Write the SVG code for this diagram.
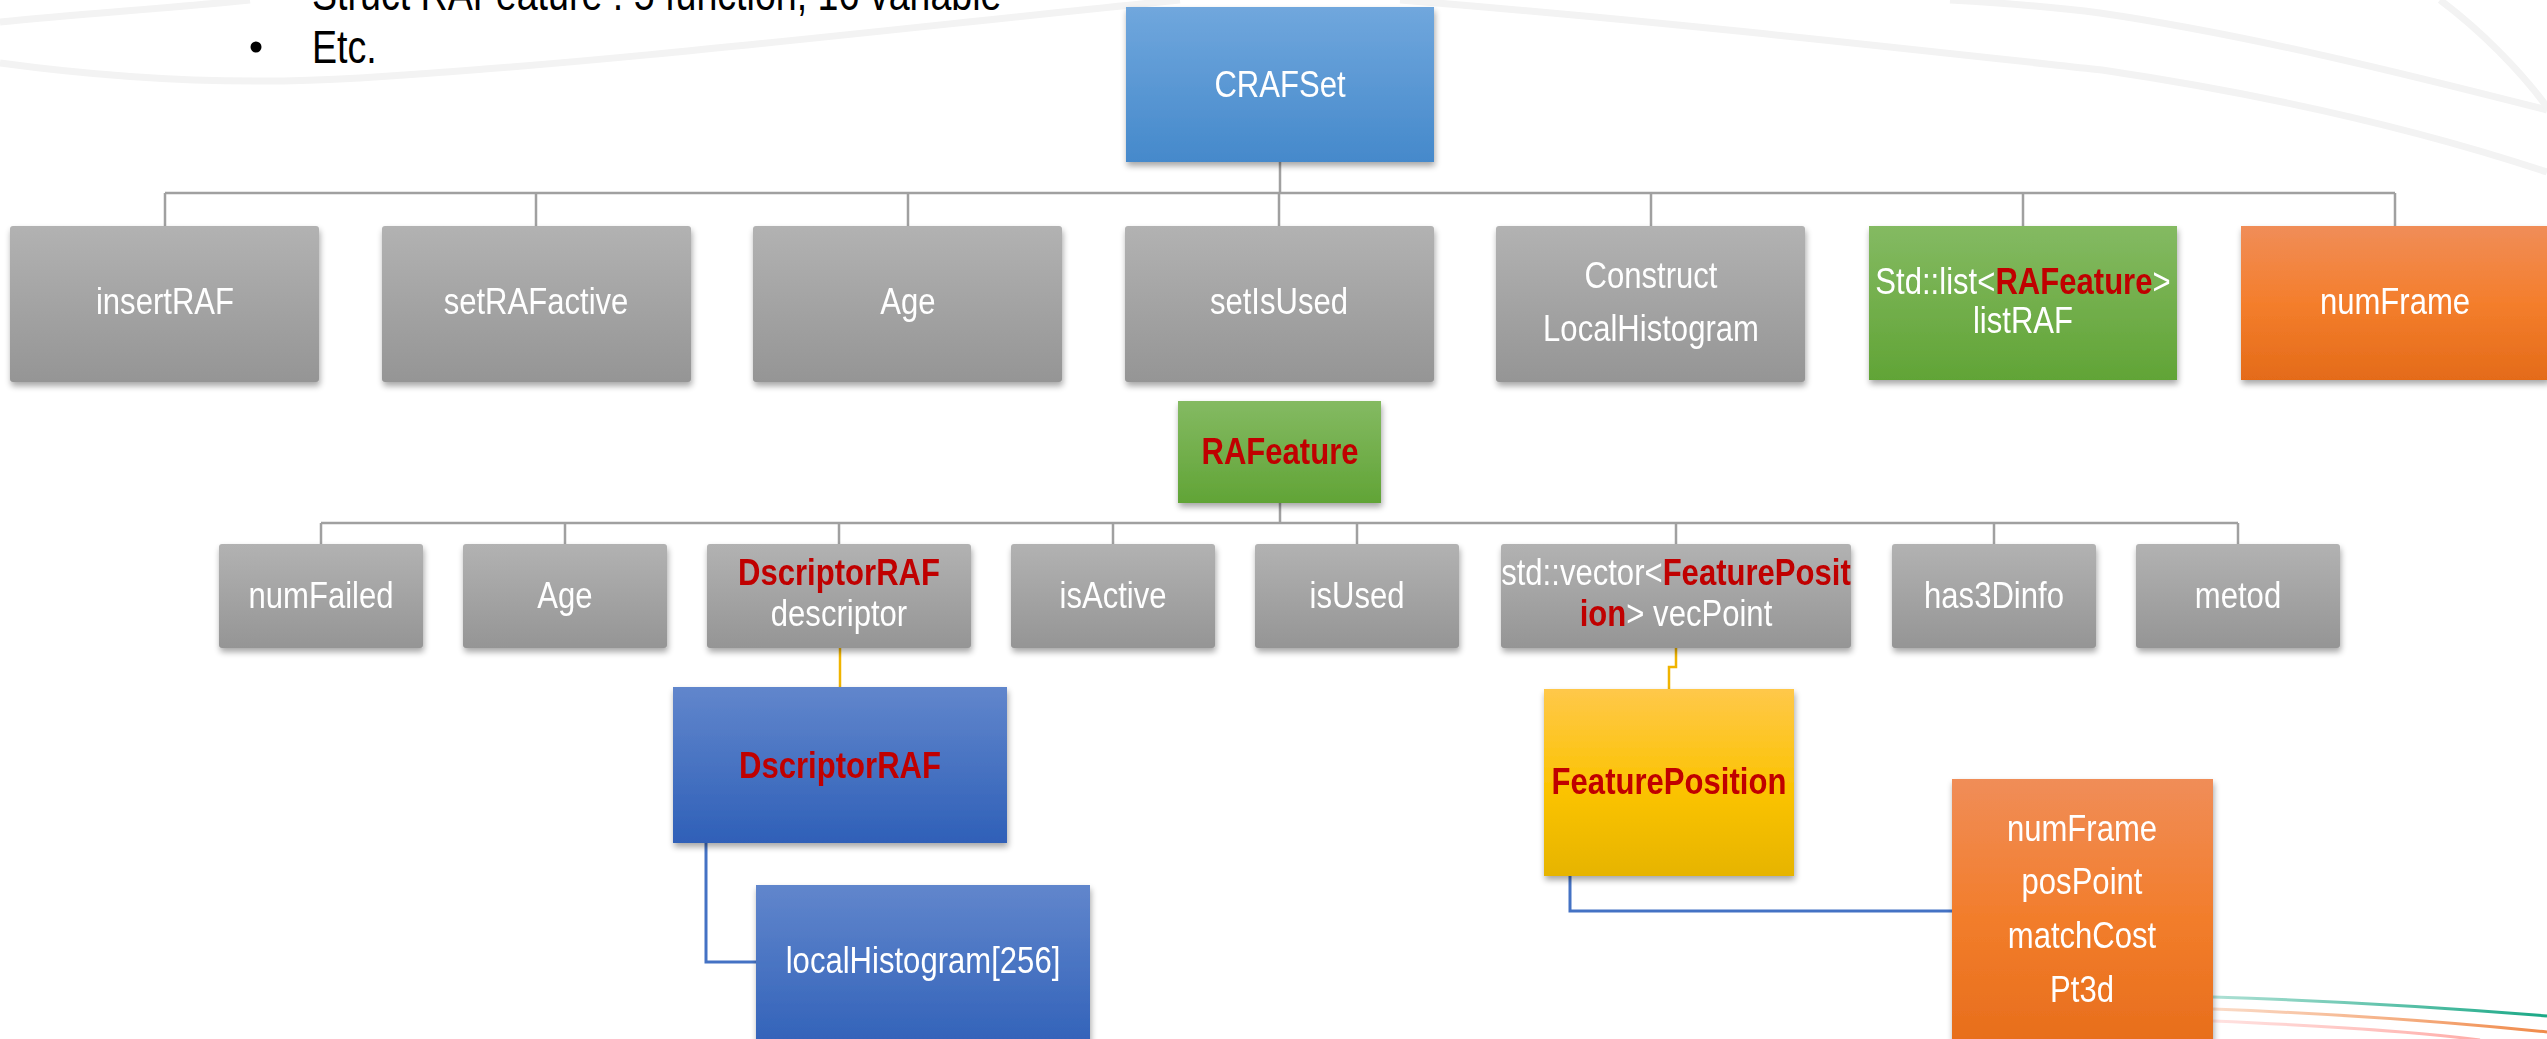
<svg xmlns="http://www.w3.org/2000/svg" width="2547" height="1039" viewBox="0 0 2547 1039">
  <style>
    .lbl { font-family: "Liberation Sans", Arial, sans-serif; font-size: 37px; fill: #ffffff; text-anchor: middle; }
    .key { font-weight: bold; fill: #c00000; }
    .bus { fill: none; stroke: #a0a0a0; stroke-width: 2.5; }
    .link-gold { fill: none; stroke: #f0b400; stroke-width: 2.5; }
    .link-blue { fill: none; stroke: #4472c4; stroke-width: 3; }
    .deco { fill: none; stroke: #f3f3f3; stroke-width: 7; }
    .note { font-family: "Liberation Sans", Arial, sans-serif; font-size: 47px; fill: #000000; }
  </style>
  <defs>
    <linearGradient id="gGray" x1="0" y1="0" x2="0" y2="1">
      <stop offset="0" stop-color="#b2b2b2"/>
      <stop offset="1" stop-color="#959595"/>
    </linearGradient>
    <linearGradient id="gSky" x1="0" y1="0" x2="0" y2="1">
      <stop offset="0" stop-color="#70a7dd"/>
      <stop offset="1" stop-color="#4589cb"/>
    </linearGradient>
    <linearGradient id="gBlue" x1="0" y1="0" x2="0" y2="1">
      <stop offset="0" stop-color="#6186cc"/>
      <stop offset="1" stop-color="#2f60b8"/>
    </linearGradient>
    <linearGradient id="gGreen" x1="0" y1="0" x2="0" y2="1">
      <stop offset="0" stop-color="#84ba62"/>
      <stop offset="1" stop-color="#61a436"/>
    </linearGradient>
    <linearGradient id="gOrange" x1="0" y1="0" x2="0" y2="1">
      <stop offset="0" stop-color="#f08d58"/>
      <stop offset="0.5" stop-color="#f47e2c"/>
      <stop offset="1" stop-color="#e46b19"/>
    </linearGradient>
    <linearGradient id="gOrangeTall" x1="0" y1="0" x2="0" y2="1">
      <stop offset="0" stop-color="#f08d58"/>
      <stop offset="0.5" stop-color="#f27d2b"/>
      <stop offset="1" stop-color="#e66c1a"/>
    </linearGradient>
    <linearGradient id="gYellow" x1="0" y1="0" x2="0" y2="1">
      <stop offset="0" stop-color="#ffc84a"/>
      <stop offset="0.55" stop-color="#fbc300"/>
      <stop offset="1" stop-color="#e6b400"/>
    </linearGradient>
    <linearGradient id="sTeal" gradientUnits="userSpaceOnUse" x1="2213" y1="0" x2="2547" y2="0">
      <stop offset="0" stop-color="#1aa886" stop-opacity="0.35"/>
      <stop offset="1" stop-color="#1aa886"/>
    </linearGradient>
    <linearGradient id="sAmber" gradientUnits="userSpaceOnUse" x1="2213" y1="0" x2="2547" y2="0">
      <stop offset="0" stop-color="#f08a4a" stop-opacity="0.3"/>
      <stop offset="1" stop-color="#f08a4a"/>
    </linearGradient>
    <linearGradient id="sRose" gradientUnits="userSpaceOnUse" x1="2213" y1="0" x2="2547" y2="0">
      <stop offset="0" stop-color="#ff9f9a" stop-opacity="0.3"/>
      <stop offset="1" stop-color="#ff9f9a"/>
    </linearGradient>
    <filter id="shadow" x="-10%" y="-10%" width="120%" height="130%">
      <feGaussianBlur in="SourceAlpha" stdDeviation="3"/>
      <feOffset dx="1" dy="4" result="b"/>
      <feComponentTransfer><feFuncA type="linear" slope="0.35"/></feComponentTransfer>
      <feMerge><feMergeNode/><feMergeNode in="SourceGraphic"/></feMerge>
    </filter>
  </defs>

  <rect width="2547" height="1039" fill="#ffffff"/>

  <!-- faint background swooshes -->
  <g id="background">
    <path class="deco" d="M0 22 C 80 14, 170 8, 250 0"/>
    <path class="deco" d="M0 63 C 110 78, 230 86, 360 78 C 620 62, 900 28, 1180 0"/>
    <path class="deco" d="M1400 0 C 1650 20, 1900 48, 2102 70 C 2270 95, 2420 130, 2547 172"/>
    <path class="deco" d="M1950 0 C 2020 4, 2070 9, 2100 13 C 2250 35, 2410 75, 2547 110"/>
    <path class="deco" d="M2440 0 C 2480 30, 2520 70, 2547 107"/>
  </g>

  <!-- text block above the tree -->
  <g id="notes">
    <text class="note" transform="translate(312 10) scale(0.8 1)">Struct  RAFeature : 5 function, 16 variable</text>
    <circle cx="256" cy="47" r="5.5" fill="#000000"/>
    <text class="note" transform="translate(312 63) scale(0.8 1)">Etc.</text>
  </g>

  <!-- tree connectors -->
  <g id="connectors">
    <path class="bus" d="M1280 162 V193 M165 193 H2395 M165 193 V226 M536 193 V226 M908 193 V226 M1279 193 V226 M1651 193 V226 M2023 193 V226 M2395 193 V226"/>
    <path class="bus" d="M1280 503 V523 M321 523 H2238 M321 523 V544 M565 523 V544 M839 523 V544 M1113 523 V544 M1357 523 V544 M1676 523 V544 M1994 523 V544 M2238 523 V544"/>
    <path class="link-gold" d="M840 648 V687"/>
    <path class="link-gold" d="M1676 648 V667 H1669 V689"/>
    <path class="link-blue" d="M706 843 V962 H756"/>
    <path class="link-blue" d="M1570 876 V911 H1952"/>
  </g>

  <!-- root -->
  <g id="crafset" filter="url(#shadow)">
    <rect x="1126" y="7" width="308" height="155" fill="url(#gSky)"/>
    <text class="lbl" transform="translate(1280 97) scale(0.84 1)">CRAFSet</text>
  </g>

  <!-- CRAFSet members -->
  <g id="insertRAF" filter="url(#shadow)">
    <rect x="10" y="226" width="309" height="156" rx="3" fill="url(#gGray)"/>
    <text class="lbl" transform="translate(165 314) scale(0.84 1)">insertRAF</text>
  </g>
  <g id="setRAFactive" filter="url(#shadow)">
    <rect x="382" y="226" width="309" height="156" rx="3" fill="url(#gGray)"/>
    <text class="lbl" transform="translate(536 314) scale(0.84 1)">setRAFactive</text>
  </g>
  <g id="age-set" filter="url(#shadow)">
    <rect x="753" y="226" width="309" height="156" rx="3" fill="url(#gGray)"/>
    <text class="lbl" transform="translate(908 314) scale(0.84 1)">Age</text>
  </g>
  <g id="setIsUsed" filter="url(#shadow)">
    <rect x="1125" y="226" width="309" height="156" rx="3" fill="url(#gGray)"/>
    <text class="lbl" transform="translate(1279 314) scale(0.84 1)">setIsUsed</text>
  </g>
  <g id="constructLocalHistogram" filter="url(#shadow)">
    <rect x="1496" y="226" width="309" height="156" rx="3" fill="url(#gGray)"/>
    <text class="lbl" transform="translate(1651 288) scale(0.84 1)">Construct</text>
    <text class="lbl" transform="translate(1651 341) scale(0.84 1)">LocalHistogram</text>
  </g>
  <g id="listRAF" filter="url(#shadow)">
    <rect x="1869" y="226" width="308" height="154" fill="url(#gGreen)"/>
    <text class="lbl" transform="translate(2023 294) scale(0.84 1)">Std::list&lt;<tspan class="key">RAFeature</tspan>&gt;</text>
    <text class="lbl" transform="translate(2023 333) scale(0.84 1)">listRAF</text>
  </g>
  <g id="numFrame-set" filter="url(#shadow)">
    <rect x="2241" y="226" width="308" height="154" fill="url(#gOrange)"/>
    <text class="lbl" transform="translate(2395 314) scale(0.84 1)">numFrame</text>
  </g>

  <!-- RAFeature struct -->
  <g id="rafeature" filter="url(#shadow)">
    <rect x="1178" y="401" width="203" height="102" fill="url(#gGreen)"/>
    <text class="lbl key" transform="translate(1280 464) scale(0.84 1)">RAFeature</text>
  </g>

  <!-- RAFeature members -->
  <g id="numFailed" filter="url(#shadow)">
    <rect x="219" y="544" width="204" height="104" rx="3" fill="url(#gGray)"/>
    <text class="lbl" transform="translate(321 608) scale(0.84 1)">numFailed</text>
  </g>
  <g id="age-feature" filter="url(#shadow)">
    <rect x="463" y="544" width="204" height="104" rx="3" fill="url(#gGray)"/>
    <text class="lbl" transform="translate(565 608) scale(0.84 1)">Age</text>
  </g>
  <g id="descriptor" filter="url(#shadow)">
    <rect x="707" y="544" width="264" height="104" rx="3" fill="url(#gGray)"/>
    <text class="lbl key" transform="translate(839 585) scale(0.84 1)">DscriptorRAF</text>
    <text class="lbl" transform="translate(839 626) scale(0.84 1)">descriptor</text>
  </g>
  <g id="isActive" filter="url(#shadow)">
    <rect x="1011" y="544" width="204" height="104" rx="3" fill="url(#gGray)"/>
    <text class="lbl" transform="translate(1113 608) scale(0.84 1)">isActive</text>
  </g>
  <g id="isUsed" filter="url(#shadow)">
    <rect x="1255" y="544" width="204" height="104" rx="3" fill="url(#gGray)"/>
    <text class="lbl" transform="translate(1357 608) scale(0.84 1)">isUsed</text>
  </g>
  <g id="vecPoint" filter="url(#shadow)">
    <rect x="1501" y="544" width="350" height="104" rx="3" fill="url(#gGray)"/>
    <text class="lbl" transform="translate(1676 585) scale(0.84 1)">std::vector&lt;<tspan class="key">FeaturePosit</tspan></text>
    <text class="lbl" transform="translate(1676 626) scale(0.84 1)"><tspan class="key">ion</tspan>&gt; vecPoint</text>
  </g>
  <g id="has3Dinfo" filter="url(#shadow)">
    <rect x="1892" y="544" width="204" height="104" rx="3" fill="url(#gGray)"/>
    <text class="lbl" transform="translate(1994 608) scale(0.84 1)">has3Dinfo</text>
  </g>
  <g id="metod" filter="url(#shadow)">
    <rect x="2136" y="544" width="204" height="104" rx="3" fill="url(#gGray)"/>
    <text class="lbl" transform="translate(2238 608) scale(0.84 1)">metod</text>
  </g>

  <!-- DscriptorRAF struct -->
  <g id="dscriptorRAF" filter="url(#shadow)">
    <rect x="673" y="687" width="334" height="156" fill="url(#gBlue)"/>
    <text class="lbl key" transform="translate(840 778) scale(0.84 1)">DscriptorRAF</text>
  </g>
  <g id="localHistogram" filter="url(#shadow)">
    <rect x="756" y="885" width="334" height="170" fill="url(#gBlue)"/>
    <text class="lbl" transform="translate(923 973) scale(0.84 1)">localHistogram[256]</text>
  </g>

  <!-- FeaturePosition struct -->
  <g id="featurePosition" filter="url(#shadow)">
    <rect x="1544" y="689" width="250" height="187" fill="url(#gYellow)"/>
    <text class="lbl key" transform="translate(1669 794) scale(0.84 1)">FeaturePosition</text>
  </g>

  <!-- accent strokes at the lower right, passing behind the member box -->
  <g id="accent">
    <path d="M2213 997 C 2340 1001, 2450 1008, 2547 1016" fill="none" stroke="url(#sTeal)" stroke-width="3"/>
    <path d="M2213 1009 C 2340 1014, 2450 1022, 2547 1032" fill="none" stroke="url(#sAmber)" stroke-width="3"/>
    <path d="M2213 1021 C 2330 1026, 2420 1032, 2480 1040" fill="none" stroke="url(#sRose)" stroke-width="3"/>
  </g>

  <g id="featureMembers" filter="url(#shadow)">
    <rect x="1952" y="779" width="261" height="280" fill="url(#gOrangeTall)"/>
    <text class="lbl" transform="translate(2082 841) scale(0.84 1)">numFrame</text>
    <text class="lbl" transform="translate(2082 894) scale(0.84 1)">posPoint</text>
    <text class="lbl" transform="translate(2082 948) scale(0.84 1)">matchCost</text>
    <text class="lbl" transform="translate(2082 1002) scale(0.84 1)">Pt3d</text>
  </g>
</svg>
